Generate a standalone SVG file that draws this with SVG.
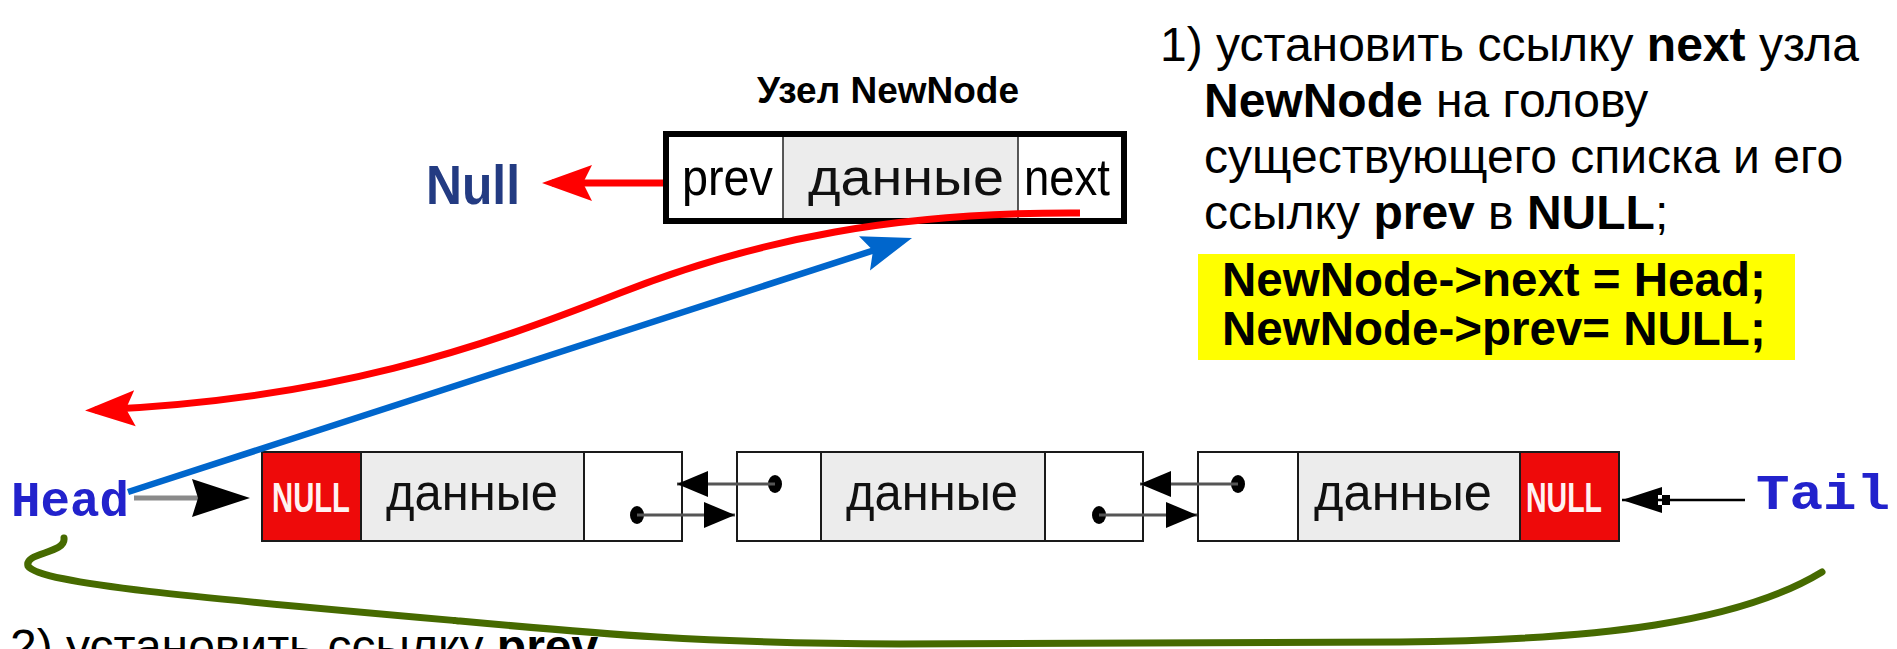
<svg xmlns="http://www.w3.org/2000/svg" width="1897" height="649" viewBox="0 0 1897 649">
  <style>
    .sans { font-family: "Liberation Sans", Arial, sans-serif; }
    .b { font-weight: bold; }
    .mono { font-family: "Courier New", "Liberation Mono", monospace; font-weight: bold; fill: #2222cc; }
    .cell { stroke: #1a1a1a; stroke-width: 2; }
    .white { fill: #ffffff; }
    .gray { fill: #ececec; }
    .red { fill: #ee0a0a; }
    .nodetxt { font-size: 52px; fill: #111; }
    .nulltxt { font-size: 42px; font-weight: bold; fill: #fff2f2; }
    .ptrline { stroke: #555; stroke-width: 3; fill: none; }
    .dot { fill: #000; }
    .step { font-size: 48px; fill: #000; }
  </style>
  <defs>
    <marker id="smallhead" markerUnits="userSpaceOnUse" markerWidth="31" markerHeight="26" viewBox="0 0 31 26" refX="31" refY="13" orient="auto">
      <path d="M0,0 L31,13 L0,26 z" fill="#000"/>
    </marker>
    <marker id="redhead" markerUnits="userSpaceOnUse" markerWidth="50" markerHeight="38" viewBox="0 0 50 38" refX="40" refY="19" orient="auto">
      <path d="M50,19 L0,1 L9,19 L0,37 z" fill="#ff0000"/>
    </marker>
    <marker id="bluehead" markerUnits="userSpaceOnUse" markerWidth="50" markerHeight="38" viewBox="0 0 50 38" refX="40" refY="19" orient="auto">
      <path d="M50,19 L0,1 L9,19 L0,37 z" fill="#0066cc"/>
    </marker>
    <marker id="bighead" markerUnits="userSpaceOnUse" markerWidth="58" markerHeight="40" viewBox="0 0 58 40" refX="48" refY="20" orient="auto">
      <path d="M58,20 L0,1 L6,20 L0,39 z" fill="#000"/>
    </marker>
    <marker id="tailhead" markerUnits="userSpaceOnUse" markerWidth="48" markerHeight="30" viewBox="0 0 48 30" refX="48" refY="15" orient="auto">
      <path d="M48,15 L8,2 L8,28 z M0,10 L12,10 L12,20 L0,20 z" fill="#000"/>
    </marker>
  </defs>

  <rect width="1897" height="649" fill="#ffffff"/>

  <!-- NewNode -->
  <g id="node-newnode">
    <text class="sans b" x="888" y="103" font-size="36" text-anchor="middle" textLength="262" lengthAdjust="spacingAndGlyphs">Узел NewNode</text>
    <rect x="666" y="134" width="458" height="87" fill="#ffffff" stroke="#000" stroke-width="6"/>
    <rect x="783" y="137" width="235" height="81" class="gray"/>
    <line x1="783" y1="137" x2="783" y2="218" stroke="#222" stroke-width="1.5"/>
    <line x1="1018" y1="137" x2="1018" y2="218" stroke="#222" stroke-width="1.5"/>
    <text class="sans" x="682" y="195" font-size="52" textLength="91" lengthAdjust="spacingAndGlyphs">prev</text>
    <text class="sans" x="808" y="195" font-size="52" textLength="196" lengthAdjust="spacingAndGlyphs" fill="#111">данные</text>
    <text class="sans" x="1024" y="195" font-size="52" textLength="86" lengthAdjust="spacingAndGlyphs">next</text>
  </g>

  <g id="label-null">
    <text class="sans b" x="426" y="204" font-size="56" fill="#233b82" textLength="94" lengthAdjust="spacingAndGlyphs">Null</text>
  </g>

  <!-- Step 1 text -->
  <g id="text-step1" class="sans step">
    <text x="1160" y="61">1) установить ссылку <tspan class="b">next</tspan> узла</text>
    <text x="1204" y="117"><tspan class="b">NewNode</tspan> на голову</text>
    <text x="1204" y="173">существующего списка и его</text>
    <text x="1204" y="229">ссылку <tspan class="b">prev</tspan> в <tspan class="b">NULL</tspan>;</text>
  </g>

  <g id="code-box">
    <rect x="1198" y="254" width="597" height="106" fill="#ffff00"/>
    <text class="sans b" x="1222" y="296" font-size="47.5">NewNode-&gt;next = Head;</text>
    <text class="sans b" x="1222" y="345" font-size="47.5">NewNode-&gt;prev= NULL;</text>
  </g>

  <!-- Head / Tail labels -->
  <g id="label-head">
    <text class="mono" x="11" y="516" font-size="50" textLength="118" lengthAdjust="spacingAndGlyphs">Head</text>
  </g>
  <g id="label-tail">
    <text class="mono" x="1756" y="509" font-size="50" textLength="134" lengthAdjust="spacingAndGlyphs">Tail</text>
  </g>

  <!-- Node 1 -->
  <g id="node-1">
    <rect x="262" y="452" width="99" height="89" class="red cell"/>
    <rect x="361" y="452" width="223" height="89" class="gray cell"/>
    <rect x="584" y="452" width="98" height="89" class="white cell"/>
    <text class="sans nulltxt" x="311" y="512" text-anchor="middle" textLength="78" lengthAdjust="spacingAndGlyphs">NULL</text>
    <text class="sans nodetxt" x="472" y="510" text-anchor="middle" textLength="172" lengthAdjust="spacingAndGlyphs">данные</text>
    <ellipse class="dot" cx="637" cy="515" rx="7" ry="9"/>
  </g>

  <!-- Node 2 -->
  <g id="node-2">
    <rect x="737" y="452" width="84" height="89" class="white cell"/>
    <rect x="821" y="452" width="224" height="89" class="gray cell"/>
    <rect x="1045" y="452" width="98" height="89" class="white cell"/>
    <text class="sans nodetxt" x="932" y="510" text-anchor="middle" textLength="172" lengthAdjust="spacingAndGlyphs">данные</text>
    <ellipse class="dot" cx="775" cy="484" rx="7" ry="9"/>
    <ellipse class="dot" cx="1099" cy="515" rx="7" ry="9"/>
  </g>

  <!-- Node 3 -->
  <g id="node-3">
    <rect x="1198" y="452" width="100" height="89" class="white cell"/>
    <rect x="1298" y="452" width="222" height="89" class="gray cell"/>
    <rect x="1520" y="452" width="99" height="89" class="red cell"/>
    <text class="sans nodetxt" x="1403" y="510" text-anchor="middle" textLength="178" lengthAdjust="spacingAndGlyphs">данные</text>
    <text class="sans nulltxt" x="1564" y="512" text-anchor="middle" textLength="76" lengthAdjust="spacingAndGlyphs">NULL</text>
    <ellipse class="dot" cx="1238" cy="484" rx="7" ry="9"/>
  </g>

  <!-- Step 2 text (cut at bottom, as in the picture) -->
  <g id="text-step2" class="sans step">
    <text x="10" y="663">2) установить ссылку <tspan class="b">prev</tspan></text>
  </g>

  <!-- Connectors -->
  <g id="connectors" fill="none">
    <!-- list pointers -->
    <line class="ptrline" x1="775" y1="484" x2="677" y2="484" marker-end="url(#smallhead)"/>
    <line class="ptrline" x1="637" y1="515" x2="735" y2="515" marker-end="url(#smallhead)"/>
    <line class="ptrline" x1="1238" y1="484" x2="1140" y2="484" marker-end="url(#smallhead)"/>
    <line class="ptrline" x1="1099" y1="515" x2="1197" y2="515" marker-end="url(#smallhead)"/>
    <!-- Head -> first node -->
    <line x1="134" y1="498" x2="240" y2="498" stroke="#8a8a8a" stroke-width="5" marker-end="url(#bighead)"/>
    <!-- Tail -> last node -->
    <line x1="1745" y1="500" x2="1622" y2="500" stroke="#000" stroke-width="2.5" marker-end="url(#tailhead)"/>
    <!-- NewNode.prev -> Null -->
    <line x1="663" y1="183" x2="552" y2="183" stroke="#ff0000" stroke-width="7" marker-end="url(#redhead)"/>
    <!-- NewNode.next -> head (red curve) -->
    <path d="M1080,213 C900,212 760,238 620,293 C480,348 330,400 95,410" stroke="#ff0000" stroke-width="7" marker-end="url(#redhead)"/>
    <!-- Head -> NewNode (blue) -->
    <line x1="128" y1="492" x2="902.5" y2="241" stroke="#0066cc" stroke-width="6.5" marker-end="url(#bluehead)"/>
    <!-- green curve Head ... Tail -->
    <path d="M64,538 C66,554 24,552 28,566 C40,584 200,598 460,621 C600,634 700,643 900,644 L1400,642 C1600,640 1740,622 1822,572" stroke="#466a00" stroke-width="7" stroke-linecap="round"/>
  </g>
</svg>
